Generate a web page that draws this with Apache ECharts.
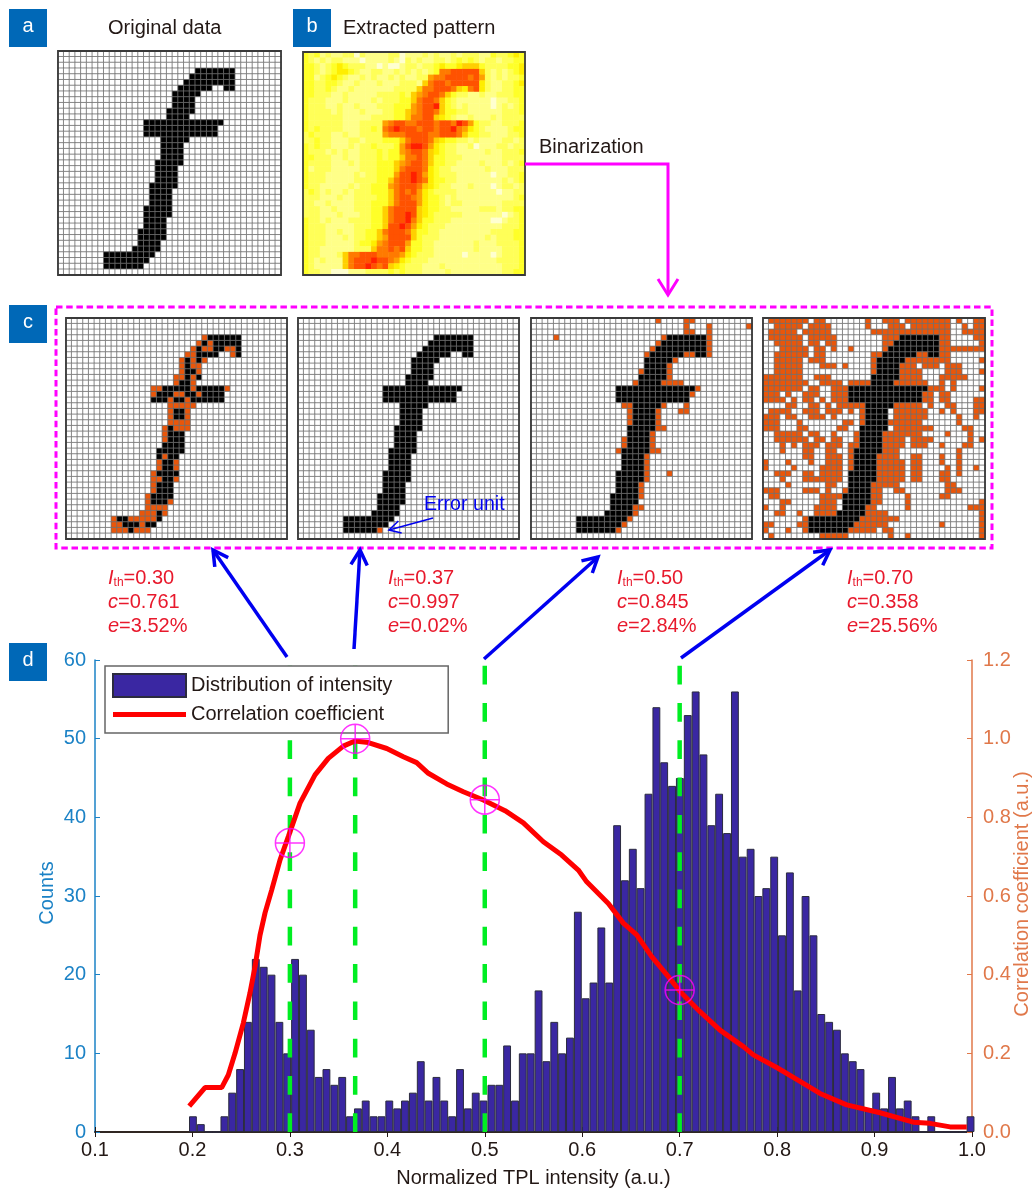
<!DOCTYPE html>
<html><head><meta charset="utf-8">
<style>html,body{margin:0;padding:0;background:#fff}#c{width:1035px;height:1189px}</style>
<script src="https://cdn.jsdelivr.net/npm/echarts@6/dist/echarts.min.js"></script>
</head><body><div id="c"></div>
<script>
// ---------- histogram (panel d) ----------
const binCenters = [0.2005,0.2086,0.2166,0.2247,0.2328,0.2408,0.2489,0.2569,0.2650,0.2731,
0.2811,0.2892,0.2972,0.3053,0.3134,0.3214,0.3295,0.3375,0.3456,0.3537,
0.3617,0.3698,0.3778,0.3859,0.3940,0.4020,0.4101,0.4181,0.4262,0.4343,
0.4423,0.4504,0.4584,0.4665,0.4746,0.4826,0.4907,0.4987,0.5068,0.5149,
0.5229,0.5310,0.5390,0.5471,0.5552,0.5632,0.5713,0.5793,0.5874,0.5955,
0.6035,0.6116,0.6196,0.6277,0.6358,0.6438,0.6519,0.6599,0.6680,0.6761,
0.6841,0.6922,0.7002,0.7083,0.7164,0.7244,0.7325,0.7405,0.7486,0.7567,
0.7647,0.7728,0.7808,0.7889,0.7970,0.8050,0.8131,0.8211,0.8292,0.8373,
0.8453,0.8534,0.8614,0.8695,0.8776,0.8856,0.8937,0.9017,0.9098,0.9179,
0.9259,0.9340,0.9420,0.9501,0.9582,0.9662,0.9743,0.9823,0.9904,0.9985];
const binCounts = [2,1,0,0,2,5,8,14,22,21,20,14,10,22,20,13,7,8,6,7,
2,3,4,2,2,4,3,4,5,9,4,7,4,2,8,3,5,4,6,6,
11,4,10,10,18,9,14,10,12,28,17,19,26,19,39,32,36,31,43,54,
47,44,45,53,56,48,39,43,38,56,35,36,30,31,35,25,33,18,30,25,
15,14,13,10,9,8,3,5,3,7,3,4,2,0,2,0,0,0,0,2];
// ---------- correlation curve ----------
const curveX = [0.1967,0.2129,0.2300,0.2368,0.2437,0.2522,0.2590,0.2642,0.2693,0.2745,0.2813,0.2899,0.2984,0.3104,0.3258,0.3394,0.3548,0.3668,0.3805,0.3994,0.4164,0.4301,0.4421,0.4609,0.4780,0.4985,0.5208,0.5396,0.5601,0.5789,0.5960,0.6046,0.6268,0.6422,0.6559,0.6713,0.6884,0.7004,0.7209,0.7414,0.7654,0.7756,0.7996,0.8201,0.8440,0.8714,0.9056,0.9398,0.9569,0.9775,0.9946];
const curveY = [0.066,0.113,0.113,0.145,0.200,0.277,0.353,0.420,0.500,0.557,0.615,0.692,0.751,0.836,0.908,0.950,0.981,0.994,0.990,0.975,0.954,0.939,0.912,0.885,0.865,0.844,0.817,0.786,0.738,0.704,0.666,0.636,0.581,0.531,0.501,0.446,0.395,0.357,0.306,0.259,0.217,0.196,0.164,0.134,0.098,0.069,0.049,0.025,0.022,0.013,0.013];
const thresholds = [0.30,0.367,0.50,0.70];
const thresholdCorr = [0.735,1.0,0.845,0.361];
const xTickRange = [0.1,1.0], countRange = [0,60], corrRange = [0,1.2];
// ---------- the letter f on a 39 x 39 cell grid: [row, firstCol, lastCol] ----------
const fRuns = [[3,24,30],[4,23,30],[5,22,30],[6,21,26],[6,29,30],[7,20,24],[8,20,23],[9,20,23],[10,19,23],[11,19,22],
[12,15,28],[13,15,27],[14,15,27],[15,18,22],[16,18,21],[17,18,21],[18,18,21],[19,17,21],[20,17,20],[21,17,20],[22,17,20],
[23,16,20],[24,16,19],[25,16,19],[26,16,19],[27,15,19],[28,15,19],[29,15,18],[30,15,18],[31,14,18],[32,14,18],
[33,14,17],[34,13,17],[35,8,16],[36,8,15],[37,8,14]];
// error cells [row, col] for each threshold
const errors030 = [[3,24],[4,23],[4,25],[5,22],[5,24],[5,25],[5,28],[5,29],[6,21],[6,22],[6,29],[7,20],[7,22],[7,24],[8,20],[8,22],[8,23],[9,20],[9,23],[10,19],[10,20],[10,22],[11,19],[11,22],[12,15],[12,16],[12,22],[12,28],[13,15],[13,19],[13,20],[13,23],[14,18],[14,21],[15,18],[15,19],[15,20],[15,21],[15,22],[16,18],[16,21],[17,18],[17,21],[18,18],[18,19],[18,20],[18,21],[19,19],[19,20],[19,21],[19,17],[20,17],[21,17],[24,17],[25,16],[26,16],[25,19],[26,19],[27,15],[28,15],[28,16],[28,19],[29,15],[30,15],[31,14],[32,14],[32,18],[33,14],[33,15],[33,16],[33,17],[34,13],[34,14],[34,15],[34,17],[35,8],[35,11],[35,12],[35,13],[35,14],[35,15],[36,8],[36,9],[36,13],[37,8],[37,9],[37,10],[37,12],[37,13],[37,14]];
const errors037 = [[37,14]];
const errors050 = [[0,22],[0,27],[0,28],[1,27],[2,27],[2,28],[1,31],[2,31],[3,31],[4,31],[5,31],[6,31],[1,38],[3,4],[3,23],[4,22],[5,21],[6,20],[9,19],[11,18],[6,27],[6,28],[7,25],[8,24],[9,24],[10,24],[11,23],[11,24],[11,25],[11,26],[12,29],[13,28],[15,16],[15,17],[16,17],[17,17],[18,17],[15,23],[16,22],[17,22],[18,22],[19,22],[19,23],[15,27],[16,26],[16,27],[20,21],[21,21],[22,21],[23,21],[23,22],[21,16],[22,16],[23,15],[24,20],[25,20],[26,20],[27,20],[28,20],[27,24],[29,19],[30,19],[31,19],[33,18],[33,19],[34,18],[35,17],[36,16],[37,15]];
const falsePositive070 = [
".ooooooo.oo.......o..ooo.oooooooo.o..oo",
"..ooooo.oooo......o...ooo.ooooooo..o.oo",
".ooooo.ooooo.......oooooooooooooo..oooo",
".oooooo.ooooo........ooo.......oo....oo",
"..ooooo.oo.oo........oo........oo.....o",
"...ooooo.oo.o..o.....o.........oooooooo",
"..oooooo.oo........oo......oo..oo......",
"..ooooo.ooo........o.....oooooooo.....o",
"..ooooo...ooo.o....o....ooo.ooo.ooo....",
"..ooooo............o....oooo....ooo...o",
"ooooooo..ooo............oooo...ooooo...",
"oooooooo..oooo.oooo....oooooo..o.o.....",
"ooooooo.oo..ooo..............ooo.o....o",
"ooo.o..ooo..ooo.............oo.oo......",
"oooo.o.oo.o.ooo.............oo.oo....oo",
"....oo..oo.o.ooooo.....ooooo.o..oo...oo",
".oooo..ooo.ooo.o.oo....oooooo..o.o...oo",
"ooo.oo..ooo.o....oo....oooooo.....o..o.",
"ooo...o.......oo.o....oooooo......o....",
"ooo...oo.....oo..o.....ooooooo.....oo..",
"..ooooo.oo..o...o....ooooooo....o...o..",
"..oooooo.oo.oo..oo...oooo.oooo......o.o",
"...o.o.ooo.ooo.oo....oooo.ooo..o...oo..",
"...o...oo..oo..o.....ooo..........o....",
".......oo..ooo.o....oooo..oo...o..o....",
"o...o...o..ooo.o....ooooo.oo...o..o....",
"o....o....oooo.o....ooooo.oo....o.o..o.",
"..ooo..oo.oooo......ooooo.oo...oo.o....",
"...o...ooooooo......ooooo.oo...oo......",
"....o......oo..o...ooooo........oo.....",
"ooo....ooo.o..o....oo..oo.......ooo....",
".oo.......oooo.....oo....o.....oo......",
"...oo.....ooo.o....oo....o............o",
"o..o.....oooo.....oo.....o..........ooo",
"..oo..o..ooooo....oooo................o",
".......o.........ooooooo..............o",
"oo....oo........oooooo.........o......o",
"o...o..o.......ooooo.oo...............o",
".o........ooooo.......o..o............o"];
// extracted intensity, 0 (pale) ... 9 (red)
const extractedRows = [
"323121122021111220111212112122211322343",
"321212211101111210212112212323212212233",
"332123432221101001221223433455532222334",
"332123443211221121212123778888852121234",
"331234321121211212112267788887862121223",
"332233211211121112221578878888842112234",
"332232112111111122225778887547842112233",
"332221121111122223256788753221121122233",
"322211121111212223357887532111111011223",
"322211211211122233367889532121111012123",
"322221211121112233567887533221111112223",
"322222211111222233577885432112111212222",
"322222211122226788778887887986322112223",
"323222211122327898887887889764321111233",
"232221121122226777888877888753322111223",
"223221112212223335788875433221211112212",
"323221112122322236899864322112011122122",
"322212121122232336788754322111112112223",
"332221121122232335778753322211111112222",
"322221112122233356788753322111121112123",
"312221111122233357888743221111112111222",
"322211111212233368898643222111111011223",
"322211111222233578898743322111111112123",
"322111112122333678887543221112111012212",
"232121121222333578786432222111111101122",
"222111211222233578876433212111111111123",
"221121111222333578886433212211111112222",
"222112111222335788885433221111122212233",
"222111211122335788985432222211111110123",
"322121112222335788975332221111111001223",
"322211111222335889864322211111111112223",
"322211211223357888753322111111111222233",
"322211121223356888853222111111112122233",
"322211111233467888633221111111211122223",
"322111111222577878533221111111211112223",
"322111257788877776432221111101111012223",
"321211157888988764322211111111111122223",
"321111157889878543222111211111111112223",
"322110001112222323222111121111111112233"];
const gridIdx = Array.from({length:39},(_,i)=>i);

// ---------- cells built from the arrays above ----------
const fSet = new Set();
fRuns.forEach(([r,a,b])=>{for(let c=a;c<=b;c++)fSet.add(r+'_'+c)});
function binaryCells(errs){
  const e = new Set(errs.map(([r,c])=>r+'_'+c)), out=[];
  for(const r of gridIdx)for(const c of gridIdx){
    const k=r+'_'+c;
    out.push([c,r,e.has(k)?2:(fSet.has(k)?1:0)]);
  }
  return out;
}
const fp070 = [];
falsePositive070.forEach((s,r)=>{for(let c=0;c<39;c++){if(s[c]==='o'&&!fSet.has(r+'_'+c))fp070.push([r,c]);}});
const extractedCells=[];
extractedRows.forEach((s,r)=>{const t=s.padEnd(39,'2');for(let c=0;c<39;c++)extractedCells.push([c,r,+t[c]]);});

const font='"Liberation Sans",Arial,sans-serif', ink='#231815', blue='#1b82c6', orange='#e0784a', mag='#ff00ff';
const panels=[
 {box:[58,51,223,224],data:binaryCells([])},
 {box:[303,52,222,223],data:extractedCells,heat:true},
 {box:[66,318,221,221],data:binaryCells(errors030)},
 {box:[298,318,221,221],data:binaryCells(errors037)},
 {box:[531,318,221,221],data:binaryCells(errors050)},
 {box:[763,318,222,221],data:binaryCells(fp070)}];

const grids=[{left:95,top:660,width:877,height:472,outerBoundsMode:'none',containLabel:false}];
const xAxes=[
 {type:'value',min:xTickRange[0],max:xTickRange[1],interval:0.1,gridIndex:0,position:'bottom',
  axisLine:{lineStyle:{color:'#231815',width:1.5}},axisTick:{inside:true,length:5,lineStyle:{color:'#231815'}},splitLine:{show:false},
  axisLabel:{color:ink,fontSize:20,fontFamily:font,margin:8,formatter:v=>v.toFixed(1)},
  name:'Normalized TPL intensity (a.u.)',nameLocation:'middle',nameGap:36,nameTextStyle:{color:ink,fontSize:20,fontFamily:font}},
 {type:'value',min:xTickRange[0],max:xTickRange[1],interval:0.1,gridIndex:0,position:'top',
  axisLine:{show:true,lineStyle:{color:'#231815',width:1.5}},axisTick:{inside:true,length:5,lineStyle:{color:'#231815'}},axisLabel:{show:false},splitLine:{show:false}}];
const yAxes=[
 {type:'value',min:countRange[0],max:countRange[1],interval:10,gridIndex:0,position:'left',
  axisLine:{show:true,lineStyle:{color:blue,width:1.5}},axisTick:{show:true,inside:true,length:5,lineStyle:{color:blue}},splitLine:{show:false},
  axisLabel:{color:blue,fontSize:20,fontFamily:font,margin:9}},
 {type:'value',min:corrRange[0],max:corrRange[1],interval:0.2,gridIndex:0,position:'right',
  axisLine:{show:true,lineStyle:{color:orange,width:1.5}},axisTick:{show:true,inside:true,length:5,lineStyle:{color:orange}},splitLine:{show:false},
  axisLabel:{color:orange,fontSize:20,fontFamily:font,margin:11,formatter:v=>v.toFixed(1)}}];

const series=[
 {name:'Distribution of intensity',type:'bar',xAxisIndex:0,yAxisIndex:0,barWidth:7.85,z:2,silent:true,animation:false,
  itemStyle:{color:'#3a27a2',borderColor:'#2b2b3f',borderWidth:1},
  data:binCenters.map((x,i)=>[x,binCounts[i]])},
 ...thresholds.map(t=>({type:'line',xAxisIndex:0,yAxisIndex:0,z:3,symbol:'none',silent:true,animation:false,
   lineStyle:{color:'#00ee22',width:4.5,type:[18.7,18.6]},data:[[t,0],[t,60]]})),
 {name:'Correlation coefficient',type:'line',xAxisIndex:0,yAxisIndex:1,z:4,symbol:'none',silent:true,animation:false,
  lineStyle:{color:'#ff0000',width:5},itemStyle:{color:'#ff0000'},data:curveX.map((x,i)=>[x,curveY[i]])},
 {type:'scatter',xAxisIndex:0,yAxisIndex:1,z:12,silent:true,animation:false,symbolSize:29,
  symbol:'path://M-10 0A10 10 0 1 1 10 0A10 10 0 1 1 -10 0ZM-10 0L10 0M0 -10L0 10',
  itemStyle:{color:'rgba(0,0,0,0)',borderColor:mag,borderWidth:1.5},
  data:thresholds.map((t,i)=>[t,thresholdCorr[i]])}];
const firstPanelSeries=series.length;
panels.forEach((p,i)=>{
  const g=i+1;
  grids.push({left:p.box[0],top:p.box[1],width:p.box[2],height:p.box[3]});
  xAxes.push({type:'category',gridIndex:g,data:gridIdx,show:false});
  yAxes.push({type:'category',gridIndex:g,data:gridIdx,inverse:true,show:false});
  series.push({type:'heatmap',xAxisIndex:g+1,yAxisIndex:g+1,progressive:0,silent:true,animation:false,data:p.data,
    itemStyle:p.heat?{borderWidth:0}:{borderColor:'#707070',borderWidth:0.8}});
});
const binaryIdx=[],heatIdx=[];
panels.forEach((p,i)=>(p.heat?heatIdx:binaryIdx).push(firstPanelSeries+i));

// annotation drawing helpers
function arrow(x1,y1,x2,y2,color,w,head){
  const a=Math.atan2(y2-y1,x2-x1),s=0.5;
  return [{type:'polyline',z:20,silent:true,shape:{points:[[x1,y1],[x2,y2]]},style:{stroke:color,lineWidth:w,fill:null}},
   {type:'polyline',z:20,silent:true,shape:{points:[[x2-head*Math.cos(a-s),y2-head*Math.sin(a-s)],[x2,y2],[x2-head*Math.cos(a+s),y2-head*Math.sin(a+s)]]},style:{stroke:color,lineWidth:w,fill:null}}];
}
function tag(x,y,t){return [{type:'rect',z:20,silent:true,shape:{x,y,width:38,height:38},style:{fill:'#0068b7'}},
  {type:'text',z:21,silent:true,x:x+19,y:y+17,style:{text:t,fill:'#fff',font:'20px '+font,align:'center',verticalAlign:'middle'}}];}
function label(x,y,t,color,size){return {type:'text',z:21,silent:true,x,y,style:{text:t,fill:color||ink,font:(size||20)+'px '+font,verticalAlign:'middle'}};}
function vLabel(x,y,t,color){return {type:'text',z:21,silent:true,x,y,rotation:Math.PI/2,style:{text:t,fill:color,font:'20px '+font,align:'center',verticalAlign:'middle'}};}
function thText(x,y,ith,c,e){
  const red='#e8192c',rich={i:{fontStyle:'italic',fontSize:20,fontFamily:font,fill:red},n:{fontSize:20,fontFamily:font,fill:red},s:{fontSize:12,fontFamily:font,fill:red,padding:[10,0,0,0]}};
  return [
   {type:'text',z:21,silent:true,x,y,style:{text:`{i|I}{s|th}{n|=${ith}}`,rich,fill:red,verticalAlign:'middle'}},
   {type:'text',z:21,silent:true,x,y:y+24,style:{text:`{i|c}{n|=${c}}`,rich,fill:red,verticalAlign:'middle'}},
   {type:'text',z:21,silent:true,x,y:y+48,style:{text:`{i|e}{n|=${e}}`,rich,fill:red,verticalAlign:'middle'}}];
}
const graphics=[
 ...tag(9,9,'a'),...tag(293,9,'b'),...tag(9,305,'c'),...tag(9,643,'d'),
 label(108,28,'Original data'),label(343,28,'Extracted pattern'),label(539,147,'Binarization'),
 vLabel(47,893,'Counts',blue),vLabel(1022,894,'Correlation coefficient (a.u.)',orange),
 {type:'polyline',z:20,silent:true,shape:{points:[[525,164],[668,164],[668,294]]},style:{stroke:mag,lineWidth:3,fill:null}},
 {type:'polyline',z:20,silent:true,shape:{points:[[658,279],[668,295],[678,279]]},style:{stroke:mag,lineWidth:3,fill:null}},
 {type:'rect',z:20,silent:true,shape:{x:56,y:307,width:936,height:241},style:{stroke:mag,lineWidth:3,fill:null,lineDash:[6.5,3.7]}},
 ...panels.map(p=>({type:'rect',z:19,silent:true,shape:{x:p.box[0],y:p.box[1],width:p.box[2],height:p.box[3]},style:{stroke:'#3a3a3a',lineWidth:1.8,fill:null}})),
 ...arrow(287,657,213,550,'#0000f0',3.5,17),...arrow(354,649,360,550,'#0000f0',3.5,17),
 ...arrow(484,659,598,557,'#0000f0',3.5,17),...arrow(681,658,830,550,'#0000f0',3.5,17),
 ...arrow(433,518,389,530,'#0000f0',1.6,13),
 label(424,505,'Error unit','#0000f0',19.6),
 ...thText(108,578,'0.30','0.761','3.52%'),...thText(388,578,'0.37','0.997','0.02%'),
 ...thText(617,578,'0.50','0.845','2.84%'),...thText(847,578,'0.70','0.358','25.56%')];

const chart=echarts.init(document.getElementById('c'),null,{renderer:'canvas'});
chart.setOption({animation:false,backgroundColor:'#fff',
 grid:grids,xAxis:xAxes,yAxis:yAxes,series,graphic:graphics,
 legend:{left:105,top:666,orient:'vertical',padding:[7,56,7,7],itemWidth:73,itemHeight:23,itemGap:5,z:10,
  backgroundColor:'#fff',borderColor:'#666',borderWidth:1.5,selectedMode:false,
  textStyle:{color:ink,fontSize:20,fontFamily:font},
  data:[{name:'Distribution of intensity',icon:'rect'},
        {name:'Correlation coefficient',icon:'path://M0 0L0 23L0 0ZM0 9H73V14H0Z',itemStyle:{color:'#ff0000',borderWidth:0}}]},
 visualMap:[
  {type:'piecewise',show:false,seriesIndex:binaryIdx,dimension:2,
   pieces:[{value:0,color:'#ffffff'},{value:1,color:'#000000'},{value:2,color:'#e9560a'}]},
  {type:'continuous',show:false,seriesIndex:heatIdx,dimension:2,min:0,max:9,
   inRange:{color:['#ffffd0','#ffff88','#ffff58','#ffff28','#ffee00','#ffd000','#ffa000','#ff7a00','#ff5200','#ff2000']}}]
});
</script></body></html>
